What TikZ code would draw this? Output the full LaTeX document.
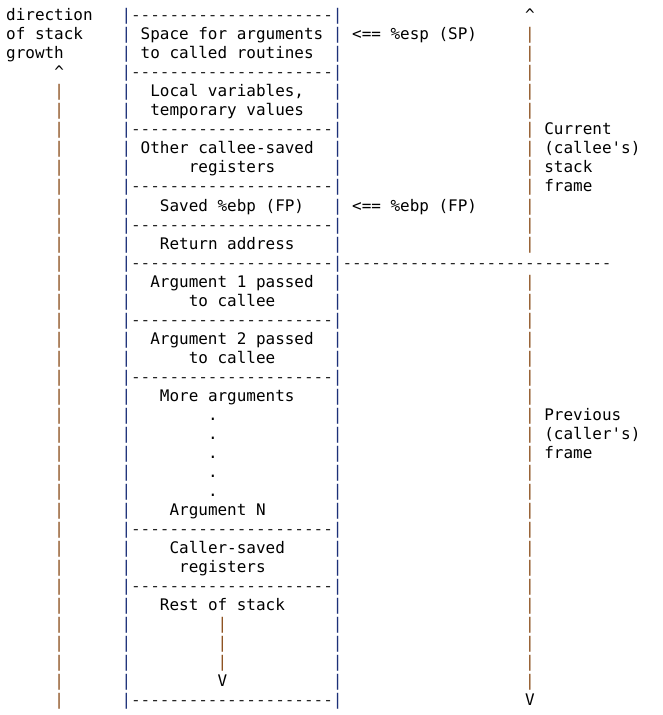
\documentclass[tikz,border=0pt]{standalone}
\usepackage{fontspec}
\setmonofont{DejaVu Sans Mono}
\usepackage{xcolor}
\usepackage{tikz}

\definecolor{arrowbrown}{RGB}{139,78,28}
\definecolor{boxblue}{RGB}{28,48,120}

\newcommand{\dashrow}[1]{\foreach \i in {1,...,#1}{-}}

\tikzset{
	cell/.style = {anchor = base west, inner sep = 0pt, font = \ttfamily\fontsize{15.96}{19}\selectfont},
	growbar/.style = {cell, text = arrowbrown},
	stackbar/.style = {cell, text = boxblue},
	dashline/.style = {cell, text = black!85}
}

\begin{document}
\begin{tikzpicture}[x = 9.61pt, y = -19.03pt]
		\def\top{0};
		\def\bot{36};
		\def\lcol{12};
		\def\rcol{34};
		
		\useasboundingbox (-6pt,20.7pt) rectangle (657pt,-694.3pt);
		
		% stack walls
		\begin{scope}
		\foreach \l in {\top,...,\bot} {
			\node [stackbar] (wl-\l) at (\lcol,\l) {|};
			\node [stackbar] (wr-\l) at (\rcol,\l) {|};
		}
		\end{scope}
		
		% separators
		\begin{scope}
		\foreach \l in {0,3,6,9,11,13,16,19,27,30,36}
			\node [dashline] (sep-\l) at (\lcol+1,\l) {\dashrow{21}};
		\node [dashline] (split) at (\rcol+1,13) {\dashrow{28}};
		\end{scope}
		
		% direction of stack growth
		\begin{scope}
		\node [cell] (dir1) at (0,0) {direction};
		\node [cell] (dir2) at (0,1) {of stack};
		\node [cell] (dir3) at (0,2) {growth};
		\node [cell] (uptip) at (5,3) {\textasciicircum};
		\foreach \l in {4,...,\bot}
			\node [growbar] (up-\l) at (5,\l) {|};
		\end{scope}
		
		% frame markers on the right
		\begin{scope}
		\node [cell] (curtip) at (54,0) {\textasciicircum};
		\foreach \l in {1,...,12}
			\node [growbar] (cur-\l) at (54,\l) {|};
		\foreach \l in {14,...,35}
			\node [growbar] (prev-\l) at (54,\l) {|};
		\node [cell] (prevtip) at (54,\bot) {V};
		\node [cell] (cur1) at (56,6) {Current};
		\node [cell] (cur2) at (56,7) {(callee's)};
		\node [cell] (cur3) at (56,8) {stack};
		\node [cell] (cur4) at (56,9) {frame};
		\node [cell] (prev1) at (56,21) {Previous};
		\node [cell] (prev2) at (56,22) {(caller's)};
		\node [cell] (prev3) at (56,23) {frame};
		\end{scope}
		
		% pointers
		\node [cell] (sp) at (36,1) {<== \%esp (SP)};
		\node [cell] (fp) at (36,10) {<== \%ebp (FP)};
		
		% callee frame
		\begin{scope}
		\node [cell] (args1) at (14,1) {Space for arguments};
		\node [cell] (args2) at (14,2) {to called routines};
		\node [cell] (loc1) at (15,4) {Local variables,};
		\node [cell] (loc2) at (15,5) {temporary values};
		\node [cell] (csave1) at (14,7) {Other callee-saved};
		\node [cell] (csave2) at (19,8) {registers};
		\node [cell] (ebp) at (16,10) {Saved \%ebp (FP)};
		\node [cell] (ret) at (16,12) {Return address};
		\end{scope}
		
		% caller frame
		\begin{scope}
		\node [cell] (arg1a) at (15,14) {Argument 1 passed};
		\node [cell] (arg1b) at (19,15) {to callee};
		\node [cell] (arg2a) at (15,17) {Argument 2 passed};
		\node [cell] (arg2b) at (19,18) {to callee};
		\node [cell] (more) at (16,20) {More arguments};
		\foreach \l in {21,...,25}
			\node [cell] (dot-\l) at (21,\l) {.};
		\node [cell] (argn) at (17,26) {Argument N};
		\node [cell] (rsave1) at (17,28) {Caller-saved};
		\node [cell] (rsave2) at (18,29) {registers};
		\node [cell] (rest) at (16,31) {Rest of stack};
		\foreach \l in {32,33,34}
			\node [growbar] (down-\l) at (22,\l) {|};
		\node [cell] (downtip) at (22,35) {V};
		\end{scope}
	\end{tikzpicture}
\end{document}
